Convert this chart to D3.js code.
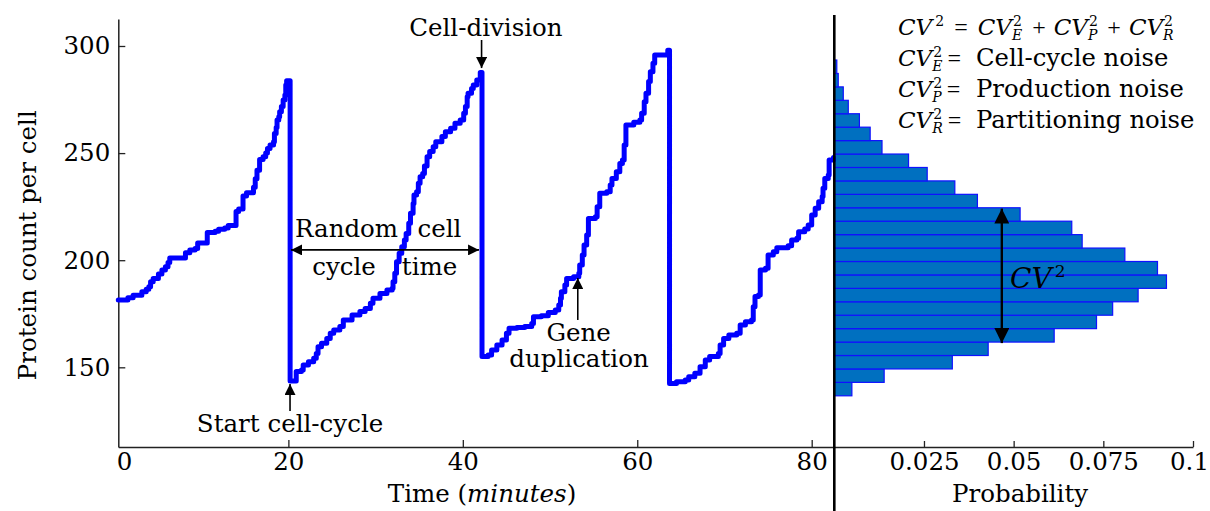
<!DOCTYPE html>
<html><head><meta charset="utf-8">
<script src="https://cdn.jsdelivr.net/npm/d3@7"></script>
<style>
body{margin:0;background:#fff;}
svg text{font-family:"DejaVu Serif",serif;fill:#000;}
</style></head><body>
<svg id="c" width="1210" height="511"></svg>
<script>
// ---------- data ----------
const timeTicks = [0, 20, 40, 60, 80];
const countTicks = [150, 200, 250, 300];
const probTicks = [0.025, 0.05, 0.075, 0.1];

// protein trajectory, [time (min), count], one array per cell cycle
const cycle1 = [[0.5,181.4],[1.6,182.5],[2.2,183.6],[3.2,185.3],[3.7,186.4],[4.0,187.6],[4.2,190],[4.5,191.5],[5.1,193.6],[5.5,195.4],[5.9,197],[6.2,198.9],[6.4,201],[8.2,203.5],[8.7,204.8],[9.3,205.5],[9.6,208],[10.7,212.9],[11.6,213.5],[12.0,214.4],[12.7,215],[13.1,216.2],[14.0,222.7],[14.3,223.9],[14.8,230],[15.2,231.5],[16.0,234],[16.2,238],[16.4,242],[16.7,247],[17.1,248.3],[17.4,250],[17.6,252.2],[17.9,253.8],[18.3,255.3],[18.4,259.2],[18.6,262],[18.7,265.5],[18.9,267],[19.0,269.3],[19.2,271.7],[19.4,274.8],[19.6,277.1],[19.7,281.8],[19.8,283.8]];
const cycle2 = [[20.2,143.6],[20.9,148],[21.5,148.7],[21.7,151.1],[22.3,152.6],[22.9,154.2],[23.2,156.5],[23.4,159.6],[23.8,161.2],[24.4,163.5],[24.8,165.9],[25.2,167.4],[25.9,169],[26.3,172.1],[27.3,174.4],[28.2,176],[28.8,177.5],[29.4,179.9],[29.7,182.2],[30.5,184.5],[31.3,186.1],[31.9,186.9],[32.0,190],[32.2,193.9],[32.4,199.3],[32.7,203.2],[33.0,206.3],[33.3,209.4],[33.5,212.5],[33.8,217.2],[34.0,221.9],[34.3,226.5],[34.4,230.4],[34.7,232],[34.9,235.9],[35.1,239],[35.4,240.5],[35.6,244],[35.9,248.3],[36.2,250.7],[36.6,253],[36.9,255.3],[37.6,257.7],[38.0,260],[38.6,261.6],[39.1,263.9],[39.7,265.5],[40.1,268.6],[40.3,271.7],[40.5,276.3],[40.6,277.9],[41.0,280.2],[41.2,281.8],[41.6,284.1],[42.0,287.6]];
const cycle3 = [[42.2,155],[42.9,155.8],[43.3,158.1],[43.9,160.4],[44.5,162.7],[45.0,165.9],[45.3,168.2],[46.2,168.6],[47.1,169],[47.9,170.5],[48.1,173.6],[49.0,174.1],[49.8,175.6],[50.6,176.8],[51.0,179.1],[51.2,182.2],[51.3,185.3],[51.7,188.4],[51.9,191.5],[52.7,192.3],[53.3,193.9],[53.4,197.8],[53.7,202.4],[53.9,207.1],[54.2,211.8],[54.4,219.5],[55.2,220.3],[55.4,225],[55.7,231.2],[56.5,232],[56.9,235.1],[57.1,238.2],[57.6,241.3],[58.0,245.2],[58.3,246.8],[58.5,253.8],[58.7,263.1],[59.6,264.4],[60.3,265.5],[60.5,268.6],[60.8,274],[61.0,277.9],[61.3,283.4],[61.5,288],[61.8,291.9],[62.0,295.8],[63.5,298]];
const cycle4 = [[63.7,142.5],[64.5,143.3],[65.5,144.1],[65.9,145.6],[66.6,147.2],[67.2,150.3],[67.8,153.4],[68.3,155],[69.3,156.5],[69.5,160.4],[69.9,163.5],[70.5,165.1],[71.4,165.9],[71.8,169.7],[72.4,171.3],[73.1,172.1],[73.3,178.3],[73.5,183],[73.9,183.7],[74.1,195.4],[74.7,196.2],[75.0,202.4],[75.6,204],[76.0,205.8],[77.3,206.8],[77.7,209.4],[78.3,210.2],[78.5,213.3],[79.2,214.6],[79.6,216.4],[80.0,221.1],[80.4,224.2],[80.8,227.3],[81.2,229.7],[81.3,233.6],[81.5,238.2],[81.9,239.8],[82.0,246.8],[82.5,247.9]];

// histogram of protein counts (bins from low to high)
const binStart = 136.7;
const binWidth = 6.27;
const binProb = [0.0049,0.0139,0.0329,0.0429,0.0613,0.0731,0.0776,0.0847,0.0926,0.0901,0.0810,0.0691,0.0662,0.0518,0.0399,0.0336,0.0259,0.0207,0.0133,0.0100,0.0070,0.0039,0.0025,0.0011,0.0007];

// annotation anchors in data units
const noteDivision = {text:"Cell-division", t:42.65, v:304.7, at:42.15, from:302.8, to:289.7};
const noteStart = {text:"Start cell-cycle", t:20.19, v:119.6, at:20.19, from:129.6, to:142.2};
const noteRandom = {t0:20.3, t1:41.86, v:204.8, words:[["Random",26.67,210.8],["cell",37.33,210.8],["cycle",26.38,193.1],["time",36.18,193.1]]};
const noteGene = {lines:[["Gene",53.27,162.3],["duplication",53.32,150.1]], at:53.18, from:172.1, to:191.7};
const noteCV = {p:0.0467, from:161.3, to:224.1, labelP:0.049, labelV:187.0};
const legendRows = [["E","Cell-cycle noise"],["P","Production noise"],["R","Partitioning noise"]];

// ---------- scales ----------
const svg = d3.select("#c");
const x = d3.scaleLinear().domain([0.5, 82.5]).range([118.3, 833.5]);
const y = d3.scaleLinear().domain([112.8, 312.6]).range([447, 19]);
const xp = d3.scaleLinear().domain([0, 0.1]).range([834.3, 1193]);

// markers
const defs = svg.append("defs");
function marker(id, w, h){
  defs.append("marker").attr("id", id).attr("viewBox", `0 0 ${w} ${h}`)
    .attr("markerUnits","userSpaceOnUse").attr("markerWidth", w).attr("markerHeight", h)
    .attr("refX", w).attr("refY", h/2).attr("orient","auto-start-reverse")
    .append("path").attr("d", `M0,0L${w},${h/2}L0,${h}Z`).attr("fill","#000");
}
marker("aS", 11, 11);
marker("aB", 15, 15);

// ---------- histogram ----------
svg.append("g").selectAll("rect").data(binProb).join("rect")
  .attr("x", xp(0))
  .attr("y", (d,i)=> y(binStart + (i+1)*binWidth))
  .attr("width", d=> xp(d) - xp(0))
  .attr("height", (d,i)=> y(binStart + i*binWidth) - y(binStart + (i+1)*binWidth))
  .attr("fill", "#0070C0").attr("stroke", "#1010FF").attr("stroke-width", 1.2);

// ---------- axes ----------
const fs = 24.5;
const yAxis = svg.append("g").attr("transform", `translate(${x(0.5)},0)`)
  .call(d3.axisLeft(y).tickValues(countTicks).tickSizeInner(-7).tickSizeOuter(0).tickPadding(8));
const xAxis = svg.append("g").attr("transform", `translate(0,${y(112.8)})`)
  .call(d3.axisBottom(x).tickValues(timeTicks).tickSizeInner(-7).tickSizeOuter(0).tickPadding(6));
const pAxis = svg.append("g").attr("transform", `translate(0,${y(112.8)})`)
  .call(d3.axisBottom(xp).tickValues(probTicks).tickFormat(d=>String(d)).tickSizeInner(-6).tickSizeOuter(0).tickPadding(6));
[yAxis, xAxis, pAxis].forEach(a=>{
  a.selectAll("text").attr("font-family","DejaVu Serif").attr("font-size", fs).attr("fill","#000");
  a.selectAll("line").attr("stroke","#222").attr("stroke-width",1.3);
  a.select(".domain").attr("stroke","#222").attr("stroke-width",1.5);
});
xAxis.selectAll(".tick").filter(d=>d===0).select("line").remove();
xAxis.selectAll(".tick").filter(d=>d===0).select("text").attr("x", 10);
pAxis.selectAll(".tick").filter(d=>d===0.1).select("text").attr("x", -4);

// axis titles
svg.append("text").attr("transform", `translate(36,${y(207)}) rotate(-90)`)
  .attr("text-anchor","middle").attr("font-size", fs).text("Protein count per cell");
const tt = svg.append("text").attr("x", x(42.2)).attr("y", 502).attr("text-anchor","middle").attr("font-size", fs);
tt.append("tspan").text("Time (");
tt.append("tspan").attr("font-style","italic").text("minutes");
tt.append("tspan").text(")");
svg.append("text").attr("x", xp(0.0518)).attr("y", 502).attr("text-anchor","middle").attr("font-size", fs).text("Probability");

// ---------- trajectory ----------
const traj = [...cycle1, ...cycle2, ...cycle3, ...cycle4];
svg.append("path").datum(traj)
  .attr("d", d3.line().x(d=>x(d[0])).y(d=>y(d[1])).curve(d3.curveStepAfter))
  .attr("fill","none").attr("stroke","#0000FF").attr("stroke-width",5)
  .attr("stroke-linejoin","round").attr("stroke-linecap","round");

// divider
svg.append("line").attr("x1", xp(0)).attr("x2", xp(0)).attr("y1", 15).attr("y2", 511)
  .attr("stroke","#000").attr("stroke-width",2.6);

// ---------- annotations ----------
function arrow(x1,y1,x2,y2,m,w,both){
  const l = svg.append("line").attr("x1",x1).attr("y1",y1).attr("x2",x2).attr("y2",y2)
    .attr("stroke","#000").attr("stroke-width",w).attr("marker-end",`url(#${m})`);
  if(both) l.attr("marker-start",`url(#${m})`);
}
function label(t, px, py){
  svg.append("text").attr("x",px).attr("y",py).attr("text-anchor","middle").attr("font-size",fs).text(t);
}
label(noteDivision.text, x(noteDivision.t), y(noteDivision.v));
arrow(x(noteDivision.at), y(noteDivision.from), x(noteDivision.at), y(noteDivision.to), "aS", 1.6);
label(noteStart.text, x(noteStart.t), y(noteStart.v));
arrow(x(noteStart.at), y(noteStart.from), x(noteStart.at), y(noteStart.to), "aS", 1.6);
arrow(x(noteRandom.t0), y(noteRandom.v), x(noteRandom.t1), y(noteRandom.v), "aS", 1.6, true);
noteRandom.words.forEach(w=>label(w[0], x(w[1]), y(w[2])));
noteGene.lines.forEach(w=>label(w[0], x(w[1]), y(w[2])));
arrow(x(noteGene.at), y(noteGene.from), x(noteGene.at), y(noteGene.to), "aS", 1.6);
arrow(xp(noteCV.p), y(noteCV.from), xp(noteCV.p), y(noteCV.to), "aB", 2.4, true);

// ---------- math text: one <text> per formula, scripts as tspans ----------
function measure(str, size, italic){
  const t = svg.append("text").attr("font-size", size).attr("font-style", italic?"italic":"normal").text(str);
  const w = t.node().getComputedTextLength(); t.remove(); return w;
}
function mathText(px, py, items, size){
  const s = Math.round(size*0.6), rise = size*0.39, drop = size*0.22;
  const t = svg.append("text").attr("x", px).attr("y", py);
  let pend = 0;
  items.forEach(it=>{
    if(it.abs !== undefined){
      t.append("tspan").attr("x", it.abs).attr("dy", pend).attr("font-size", it.size).text(it.t);
      pend = 0; return;
    }
    const sz = it.size || size;
    t.append("tspan").attr("dx", it.gap||0).attr("dy", pend).attr("font-size", sz)
      .attr("font-family", it.op ? "Liberation Serif" : "DejaVu Serif")
      .attr("font-style", it.it ? "italic" : "normal").text(it.t);
    pend = 0;
    if(it.sup){
      t.append("tspan").attr("dx", it.supGap||1).attr("dy", -rise).attr("font-size", s).text(it.sup);
      pend = rise;
      if(it.sub){
        const w2 = measure(it.sup, s, false);
        t.append("tspan").attr("dx", -w2-1).attr("dy", rise+drop).attr("font-size", s)
          .attr("font-style","italic").text(it.sub);
        pend = -drop;
      }
    }
  });
  return t;
}
const ms = 23;
mathText(898, 35, [
  {t:"CV", it:true, sup:"2", supGap:3},
  {t:"=", op:true, gap:10, size:24},
  {t:"CV", it:true, sup:"2", sub:"E", gap:10},
  {t:"+", op:true, gap:10, size:24},
  {t:"CV", it:true, sup:"2", sub:"P", gap:8},
  {t:"+", op:true, gap:10, size:24},
  {t:"CV", it:true, sup:"2", sub:"R", gap:8}
], ms);
legendRows.forEach((r,i)=>{
  mathText(898, 66 + i*31, [
    {t:"CV", it:true, sup:"2", sub:r[0]},
    {t:"=", op:true, gap:5, size:24},
    {t:r[1], abs:976, size:24.3}
  ], ms);
});
// CV^2 label inside histogram
mathText(xp(noteCV.labelP), y(noteCV.labelV), [{t:"CV", it:true, sup:"2", supGap:3}], 28);
</script>
</body></html>
